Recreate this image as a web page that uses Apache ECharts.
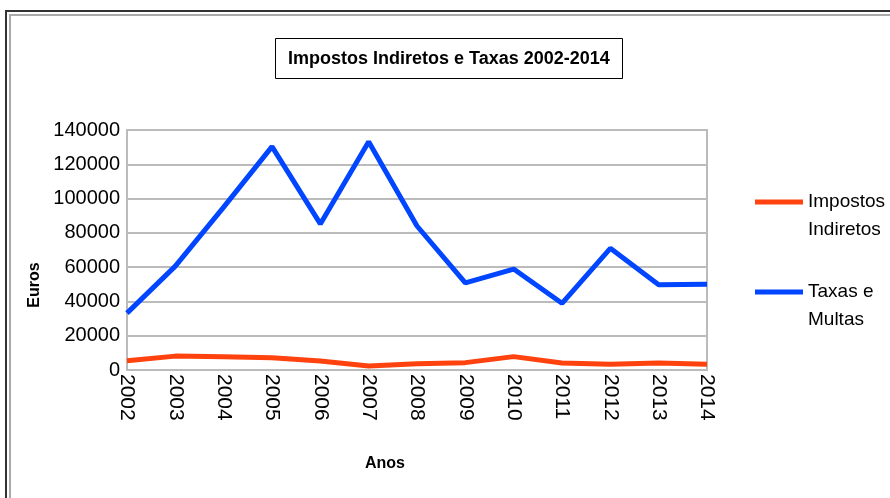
<!DOCTYPE html>
<html>
<head>
<meta charset="utf-8">
<script src="https://cdn.jsdelivr.net/npm/echarts@6/dist/echarts.min.js"></script>
<style>
  html, body { margin: 0; padding: 0; background: #fff; }
  #chart { width: 890px; height: 498px; }
</style>
</head>
<body>
<div id="chart"></div>
<script>
// dados ------------------
var anos = ['2002', '2003', '2004', '2005', '2006', '2007', '2008', '2009', '2010', '2011', '2012', '2013', '2014'];
var impostosIndiretos = [5400, 8100, 7800, 7200, 5300, 2300, 3700, 4300, 7800, 4100, 3300, 4100, 3300];
var taxasMultas = [33200, 60600, 95000, 130300, 85200, 133200, 84000, 50800, 58900, 38900, 71000, 49800, 50000];
var nomes = ['Impostos\nIndiretos', 'Taxas e\nMultas'];

var myChart = echarts.init(document.getElementById('chart'), null, { renderer: 'canvas' });

var option = {
    backgroundColor: '#fff',
    animation: false,
    title: {
        text: 'Impostos Indiretos e Taxas 2002-2014',
        left: 275,
        top: 38,
        padding: [12, 13, 11, 13],
        borderColor: '#000',
        borderWidth: 1,
        textStyle: {
            fontFamily: 'Liberation Sans',
            fontWeight: 'bold',
            fontSize: 18,
            color: '#000'
        }
    },
    graphic: [
        { type: 'rect', shape: { x: 6, y: 11, width: 900, height: 500 }, style: { fill: 'none', stroke: '#333', lineWidth: 2 } },
        { type: 'rect', shape: { x: 10, y: 15, width: 900, height: 500 }, style: { fill: 'none', stroke: '#aaa', lineWidth: 2 } }
    ],
    legend: {
        orient: 'vertical',
        left: 755,
        top: 160,
        padding: 0,
        itemGap: 6,
        itemWidth: 48,
        itemHeight: 5,
        icon: 'rect',
        data: nomes,
        // linha vazia no topo para alinhar o traço com a primeira linha
        formatter: function (name) {
            return '\n' + name;
        },
        textStyle: {
            fontFamily: 'Liberation Sans',
            fontSize: 19,
            lineHeight: 28,
            color: '#000'
        }
    },
    grid: {
        left: 127,
        right: 183,
        top: 130,
        bottom: 128,
        show: true,
        borderColor: '#bbb',
        borderWidth: 2
    },
    xAxis: {
        type: 'category',
        data: anos,
        boundaryGap: false,
        name: 'Anos',
        nameLocation: 'middle',
        nameGap: 86,
        nameTextStyle: {
            fontFamily: 'Liberation Sans',
            fontWeight: 'bold',
            fontSize: 16,
            color: '#000',
            padding: [0, 64, 0, 0]
        },
        axisLine: { lineStyle: { color: '#bbb', width: 2 } },
        axisTick: { show: false },
        axisLabel: {
            rotate: -90,
            margin: 4,
            fontFamily: 'Liberation Sans',
            fontSize: 21,
            color: '#000'
        },
        splitLine: { show: false }
    },
    yAxis: {
        type: 'value',
        min: 0,
        max: 140000,
        interval: 20000,
        name: 'Euros',
        nameLocation: 'middle',
        nameRotate: 90,
        nameGap: 78,
        nameTextStyle: {
            fontFamily: 'Liberation Sans',
            fontWeight: 'bold',
            fontSize: 16,
            color: '#000',
            padding: [0, 70, 0, 0]
        },
        axisLine: { show: true, lineStyle: { color: '#bbb', width: 2 } },
        axisTick: { show: false },
        axisLabel: {
            margin: 7,
            fontFamily: 'Liberation Sans',
            fontSize: 20,
            color: '#000',
            formatter: function (v) { return String(v); }
        },
        splitLine: { lineStyle: { color: '#bbb', width: 2 } }
    },
    series: [
        {
            name: nomes[0],
            type: 'line',
            data: impostosIndiretos,
            showSymbol: false,
            symbol: 'none',
            color: '#ff420e',
            lineStyle: { width: 5, color: '#ff420e' }
        },
        {
            name: nomes[1],
            type: 'line',
            data: taxasMultas,
            showSymbol: false,
            symbol: 'none',
            color: '#0045ff',
            lineStyle: { width: 5, color: '#0045ff' }
        }
    ]
};

myChart.setOption(option);
</script>
</body>
</html>
